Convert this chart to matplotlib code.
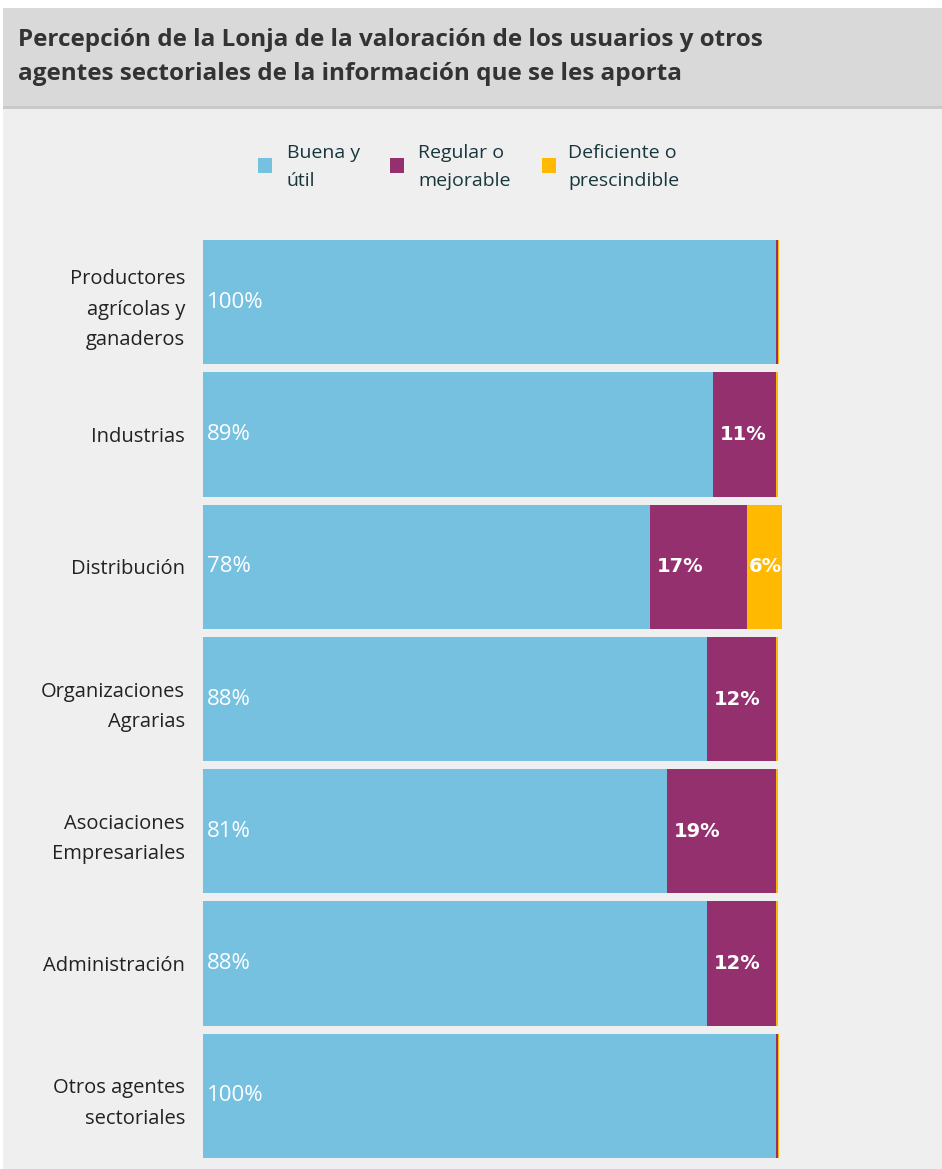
import matplotlib
matplotlib.use("Agg")
import matplotlib.pyplot as plt
from matplotlib.patches import Rectangle
import numpy as np

categories = ["Productores\nagrícolas y\nganaderos", "Industrias", "Distribución",
              "Organizaciones\nAgrarias", "Asociaciones\nEmpresariales", "Administración",
              "Otros agentes\nsectoriales"]
buena = [100, 89, 78, 88, 81, 88, 100]
regular = [0.3, 11, 17, 12, 19, 12, 0.3]
deficiente = [0.3, 0.3, 6, 0.3, 0.3, 0.3, 0.3]
buena_lbl = ["100%", "89%", "78%", "88%", "81%", "88%", "100%"]
regular_lbl = ["", "11%", "17%", "12%", "19%", "12%", ""]
deficiente_lbl = ["", "", "6%", "", "", "", ""]
series_names = ["Buena y\nútil", "Regular o\nmejorable", "Deficiente o\nprescindible"]
title = "Percepción de la Lonja de la valoración de los usuarios y otros\nagentes sectoriales de la información que se les aporta"

C_BLUE = "#76c0e0"
C_PURP = "#93306d"
C_ORNG = "#ffb900"
W, H = 942, 1169
FONT = "Open Sans"

fig = plt.figure(figsize=(W / 100, H / 100), dpi=100, facecolor="white")

def fx(x):
    return x / W

def fy(y):
    return 1 - y / H

# backgrounds
for (x0, y0, x1, y1, c) in [(3, 108, W, H, "#efefef"), (3, 8, W, 108, "#d9d9d9"),
                            (3, 106, W, 109, "#c9c9c9")]:
    fig.patches.append(Rectangle((fx(x0), fy(y1)), fx(x1) - fx(x0), fy(y0) - fy(y1),
                                 transform=fig.transFigure, facecolor=c,
                                 edgecolor="none", zorder=-10))

fig.text(fx(18), fy(57), title, fontsize=17.5, fontweight="bold", color="#333333",
         family=FONT, ha="left", va="center", linespacing=1.5)

# legend
leg_sq_x = [258, 390, 542]
leg_tx_x = [287, 418, 568]
for c, sx, tx, name in zip([C_BLUE, C_PURP, C_ORNG], leg_sq_x, leg_tx_x, series_names):
    fig.patches.append(Rectangle((fx(sx), fy(173)), 14 / W, 15 / H, transform=fig.transFigure,
                                 facecolor=c, edgecolor="none"))
    fig.text(fx(tx), fy(167), name, fontsize=14, color="#17373d", family=FONT,
             ha="left", va="center", linespacing=1.65)

ax = fig.add_axes([fx(203), fy(1158), fx(776) - fx(203), fy(240) - fy(1158)])
ax.set_facecolor("none")
y = np.arange(len(categories))
h = 0.94
left2 = np.array(buena)
left3 = left2 + np.array(regular)
ax.barh(y, buena, height=h, color=C_BLUE, clip_on=False)
ax.barh(y, regular, left=left2, height=h, color=C_PURP, clip_on=False)
ax.barh(y, deficiente, left=left3, height=h, color=C_ORNG, clip_on=False)

for i in range(len(categories)):
    ax.text(0.7, y[i], buena_lbl[i], color="white", fontsize=16, family=FONT,
            ha="left", va="center")
    if regular_lbl[i]:
        ax.text(left2[i] + 1.2, y[i], regular_lbl[i], color="white", fontsize=14,
                fontweight="bold", family="DejaVu Sans", ha="left", va="center")
    if deficiente_lbl[i]:
        ax.text(left3[i] + 0.3, y[i], deficiente_lbl[i], color="white", fontsize=14,
                fontweight="bold", family="DejaVu Sans", ha="left", va="center", clip_on=False)

ax.set_xlim(0, 100)
ax.set_ylim(len(categories) - 0.5 - (1 - h) / 2, -0.5 + (1 - h) / 2)
ax.set_yticks(y)
ax.set_yticklabels(categories, fontsize=14.5, color="#222222", family=FONT, linespacing=1.7)
ax.tick_params(axis="y", length=0, pad=13)
ax.set_xticks([])
for s in ax.spines.values():
    s.set_visible(False)

fig.savefig("out.png", dpi=100, facecolor="white")
